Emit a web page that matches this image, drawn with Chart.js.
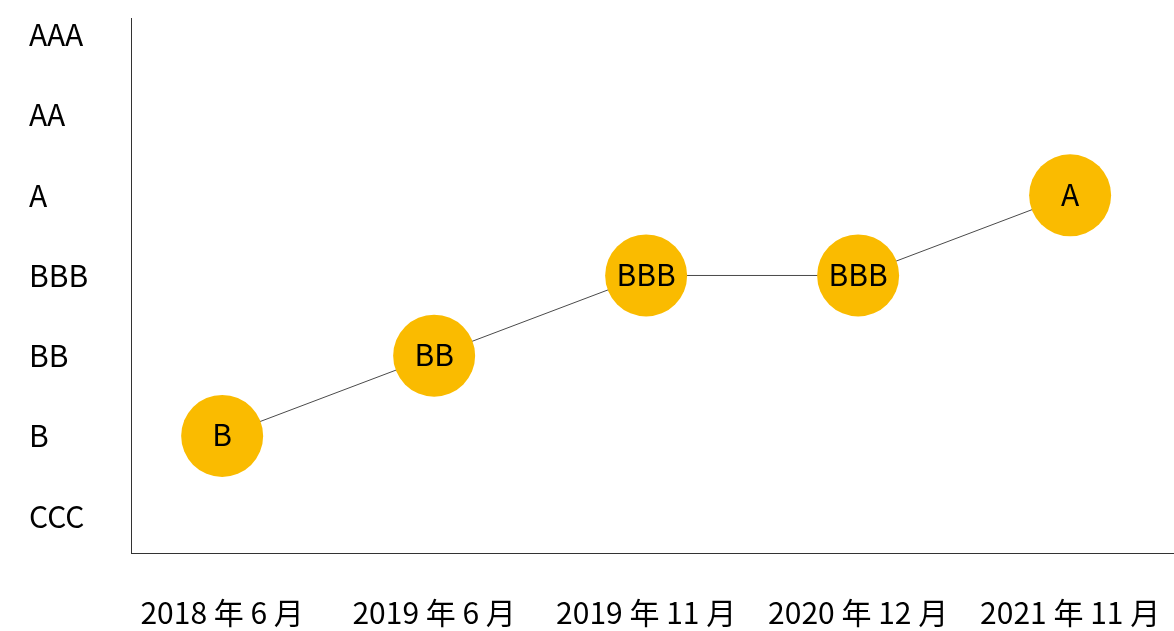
<!DOCTYPE html>
<html>
<head>
<meta charset="utf-8">
<script src="https://cdn.jsdelivr.net/npm/chart.js@4/dist/chart.umd.min.js"></script>
<style>
  html, body { margin:0; padding:0; background:#fff; }
  #wrap { width:1174px; height:631px; }
</style>
</head>
<body>
<div id="wrap"><canvas id="grafica" width="1174" height="631"></canvas></div>
<script>
// Escala de calificaciones (de abajo hacia arriba)
const ratings = ['CCC', 'B', 'BB', 'BBB', 'A', 'AA', 'AAA'];
// Fechas de cada calificacion
const fechas = ['2018 年 6 月', '2019 年 6 月', '2019 年 11 月', '2020 年 12 月', '2021 年 11 月'];
// Calificacion obtenida en cada fecha
const calificaciones = ['B', 'BB', 'BBB', 'BBB', 'A'];

const FONT = '"Noto Sans CJK SC", "Noto Sans", sans-serif';
const amarillo = '#FABB00';

// Etiqueta dentro de cada circulo
const etiquetasPuntos = {
  id: 'etiquetasPuntos',
  afterDatasetsDraw(chart){
    const ctx = chart.ctx;
    const meta = chart.getDatasetMeta(0);
    ctx.save();
    ctx.font = '30px ' + FONT;
    ctx.fillStyle = '#000';
    ctx.textAlign = 'center';
    ctx.textBaseline = 'middle';
    meta.data.forEach((pt, i) => {
      ctx.fillText(calificaciones[i], pt.x, pt.y - 1);
    });
    ctx.restore();
  }
};

// quitar el relleno extra que Chart.js deja para las etiquetas de los extremos
function sinPadding(s){
  s.paddingTop = 0; s.paddingBottom = 0; s.paddingLeft = 0; s.paddingRight = 0;
}

new Chart(document.getElementById('grafica').getContext('2d'), {
  type: 'line',
  data: {
    datasets: [{
      data: calificaciones.map((c, i) => ({ x: i, y: ratings.indexOf(c) })),
      borderColor: '#4a4a4a',
      borderWidth: 1,
      pointRadius: 41,
      pointHoverRadius: 41,
      pointBackgroundColor: amarillo,
      pointBorderColor: amarillo,
      pointBorderWidth: 0,
      tension: 0,
      clip: false
    }]
  },
  options: {
    responsive: false,
    animation: false,
    events: [],
    layout: { autoPadding: false, padding: { top: 18, left: 29, right: 0, bottom: 0 } },
    plugins: { legend: { display: false }, tooltip: { enabled: false } },
    scales: {
      x: {
        type: 'linear',
        min: -0.43,
        max: 4.49,
        grid: { display: false },
        border: { display: true, color: '#333', width: 1 },
        ticks: {
          color: '#000',
          font: { family: FONT, size: 30 },
          padding: 34, maxRotation: 0, autoSkip: false,
          callback: v => fechas[v]
        },
        afterBuildTicks: s => { s.ticks = fechas.map((_, i) => ({ value: i })); },
        afterFit: s => { s.height = 78; sinPadding(s); }
      },
      y: {
        min: -0.46,
        max: 6.21,
        grid: { display: false },
        border: { display: true, color: '#333', width: 1 },
        ticks: {
          color: '#000',
          font: { family: FONT, size: 30 },
          crossAlign: 'far',
          callback: v => ratings[v]
        },
        afterBuildTicks: s => { s.ticks = ratings.map((_, i) => ({ value: i })); },
        afterFit: s => { s.width = 102; sinPadding(s); }
      }
    }
  },
  plugins: [etiquetasPuntos]
});
</script>
</body>
</html>
